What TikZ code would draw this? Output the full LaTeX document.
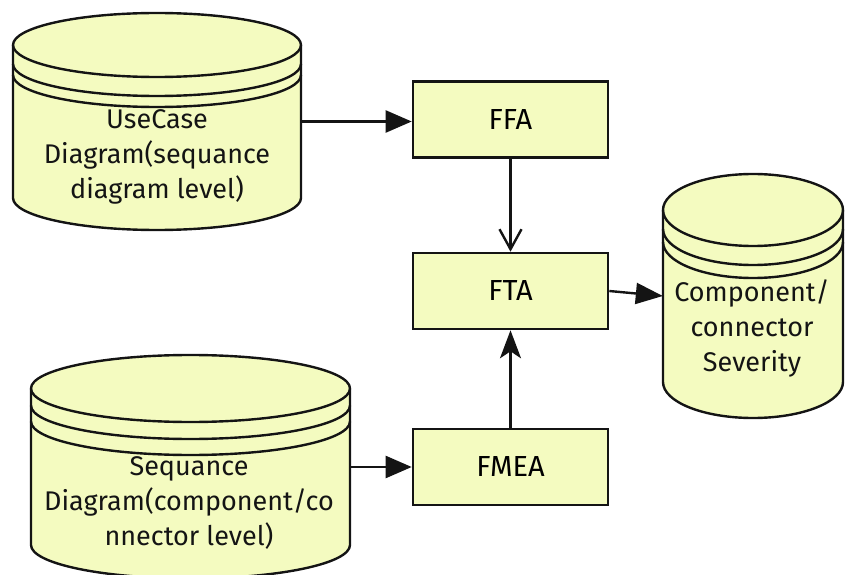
\documentclass[tikz,border=0pt]{standalone}
\usepackage{fontspec}
\setmainfont{Fira Sans}
\usetikzlibrary{arrows.meta}

\definecolor{padfill}{RGB}{244,251,192}
\definecolor{inkline}{RGB}{20,20,20}

\tikzset{
  cylbody/.style={fill=padfill, draw=inkline, line width=2.4pt, line join=round},
  cylline/.style={draw=inkline, line width=2.4pt},
  procbox/.style={draw=inkline, fill=padfill, line width=2.6pt, minimum width=195pt,
    minimum height=76pt, inner sep=0pt, font=\fontsize{29}{32}\selectfont},
  cyltext/.style={align=center, inner sep=0pt, text=inkline, font=\fontsize{27}{35}\selectfont},
  bounds/.style={inner sep=0pt, draw=none},
  link/.style={draw=inkline, line width=2.4pt},
}

% storage drum: centre x, half width, top ellipse y, bottom ellipse y, y radius,
% offsets of the two extra rim lines below the top ellipse
\newcommand\drumshape[7]{%
  \path[cylbody] (#1-#2,#3) -- (#1-#2,#4)
    arc[start angle=180, end angle=360, x radius=#2pt, y radius=#5pt]
    -- (#1+#2,#3)
    arc[start angle=0, end angle=180, x radius=#2pt, y radius=#5pt] -- cycle;
  \draw[cylline] (#1-#2,#3) arc[start angle=180, end angle=360, x radius=#2pt, y radius=#5pt];
  \draw[cylline] (#1-#2,#3-#6) arc[start angle=180, end angle=360, x radius=#2pt, y radius=#5pt];
  \draw[cylline] (#1-#2,#3-#7) arc[start angle=180, end angle=360, x radius=#2pt, y radius=#5pt];
}

\begin{document}
\begin{tikzpicture}[x=1pt, y=1pt]
  \useasboundingbox (0,0) rectangle (846,574);

  % storage drums
  \drumshape{157}{144}{529}{376}{32}{19}{30}
  \drumshape{753}{90}{364}{192}{36}{19}{32}
  \drumshape{190.5}{159.5}{185.5}{29}{33.5}{17}{33}

  \node[bounds, minimum width=288pt, minimum height=217pt] (uc) at (157,452.5) {};
  \node[bounds, minimum width=180pt, minimum height=244pt] (comp) at (753,278) {};
  \node[bounds, minimum width=319pt, minimum height=223pt] (seq) at (190.5,107.5) {};

  \node[cyltext] (uctext) at (157,417) {UseCase\\Diagram(sequance\\diagram level)};
  \node[cyltext] (comptext) at (752,246) {Component/\\connector\\Severity};
  \node[cyltext] (seqtext) at (189,71) {Sequance\\Diagram(component/co\\nnector level)};

  % analysis steps
  \node[procbox] (ffa) at (510.5,454.5) {FFA};
  \node[procbox] (fta) at (510.5,283) {FTA};
  \node[procbox] (fmea) at (510.5,107) {FMEA};

  % flow
  \draw[link, -{Triangle[length=26pt, width=22pt]}] (uc.east) -- (uc.east -| ffa.west);
  \draw[link, -{Straight Barb[length=20pt, width=22pt, line width=2.4pt]}] (ffa.south) -- (fta.north);
  \draw[link, -{Stealth[length=28pt, width=21pt, inset=7pt]}] (fmea.north) -- (fta.south);
  \draw[link, -{Triangle[length=27pt, width=21pt]}] (fta.east) -- (comp.west);
  \draw[link, -{Triangle[length=26pt, width=22pt]}] (seq.east |- fmea.west) -- (fmea.west);
\end{tikzpicture}
\end{document}
